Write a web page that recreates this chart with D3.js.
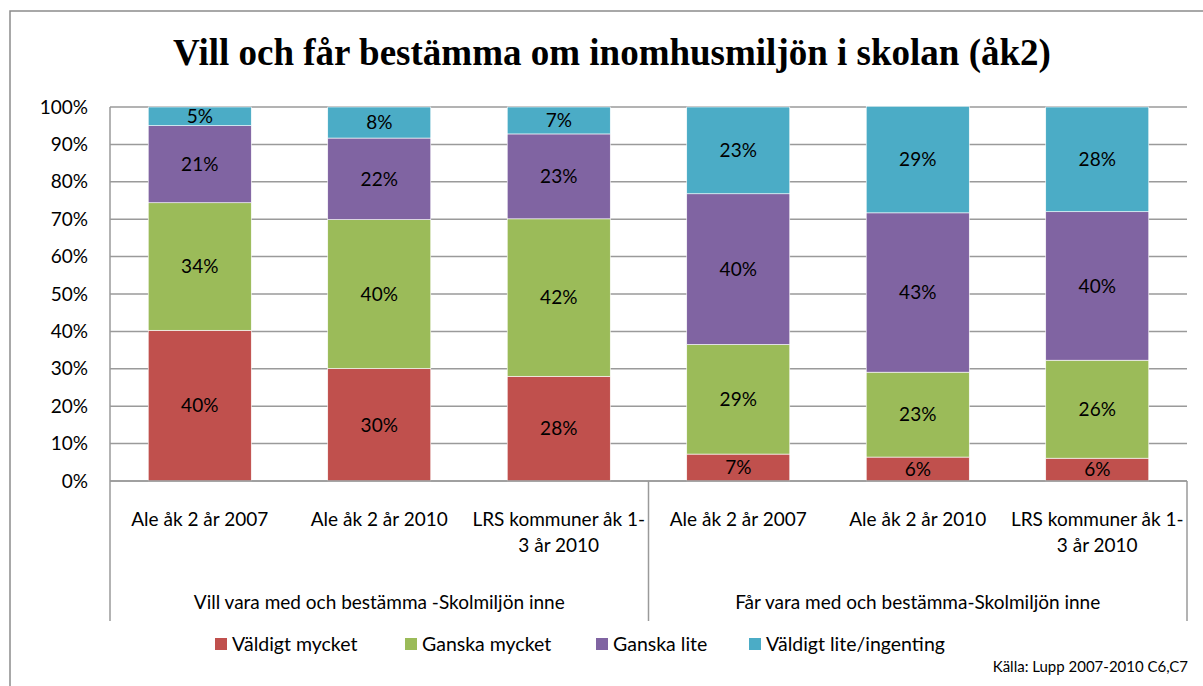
<!DOCTYPE html>
<html><head><meta charset="utf-8">
<script src="https://cdn.jsdelivr.net/npm/d3@7"></script>
<style>body{margin:0;background:#fff;} svg{display:block;}</style>
</head><body>
<svg id="chart" width="1203" height="686"></svg>
<script>
const title = "Vill och får bestämma om inomhusmiljön i skolan (åk2)";
const categoryLines = [
  ["Ale åk 2 år 2007"], ["Ale åk 2 år 2010"], ["LRS kommuner åk 1-", "3 år 2010"],
  ["Ale åk 2 år 2007"], ["Ale åk 2 år 2010"], ["LRS kommuner åk 1-", "3 år 2010"]
];
const groups = ["Vill vara med och bestämma -Skolmiljön inne", "Får vara med och bestämma-Skolmiljön inne"];
const seriesNames = ["Väldigt mycket", "Ganska mycket", "Ganska lite", "Väldigt lite/ingenting"];
const seriesColors = ["#C0504D", "#9BBB59", "#8064A2", "#4BACC6"];
const valVeryMuch   = [40.3, 30.1, 28.0, 7.2, 6.4, 6.1];
const valQuiteMuch  = [34.1, 39.8, 42.1, 29.3, 22.7, 26.2];
const valQuiteLittle= [20.6, 21.8, 22.7, 40.3, 42.6, 39.7];
const valVeryLittle = [5.0, 8.3, 7.2, 23.2, 28.5, 28.0];
const yTicks = [0,10,20,30,40,50,60,70,80,90,100];
const source = "Källa: Lupp 2007-2010 C6,C7";

const svg = d3.select("#chart");
const font = "Lato, 'Open Sans', sans-serif";
const fs = 19;
const L = 110, R = 1187, T = 107, B = 481, sepBottom = 621;
const series = [valVeryMuch, valQuiteMuch, valQuiteLittle, valVeryLittle];

// outer border
svg.append("path").attr("d", "M10,686 V11 H1203").attr("fill","none").attr("stroke","#8c8c8c").attr("stroke-width",1.5);

svg.append("text").attr("x", 612).attr("y", 65).attr("text-anchor","middle")
  .attr("font-family","'Liberation Serif', 'DejaVu Serif', serif").attr("font-weight","bold")
  .attr("font-size", 37).attr("fill","#000").text(title);

const x = d3.scaleBand().domain(d3.range(categoryLines.length)).range([L,R]).paddingInner(0.426).paddingOuter(0.213);
const y = d3.scaleLinear().domain([0,100]).range([B,T]);

// gridlines
svg.append("g").selectAll("line").data(yTicks).join("line")
  .attr("x1", L).attr("x2", R).attr("y1", d=>y(d)).attr("y2", d=>y(d))
  .attr("stroke","#9a9a9a").attr("stroke-width",1.5);

// y axis labels
svg.append("g").selectAll("text").data(yTicks).join("text")
  .attr("x", 88).attr("y", d=>y(d)).attr("dy","0.35em").attr("text-anchor","end")
  .attr("font-family",font).attr("font-size",fs).attr("fill","#000").text(d=>d+"%");

// stacked
const stackData = categoryLines.map((c,i)=>{const o={i}; series.forEach((s,k)=>o[k]=s[i]); return o;});
const stack = d3.stack().keys(d3.range(series.length))(stackData);
const layers = svg.append("g").selectAll("g").data(stack).join("g").attr("fill",(d,k)=>seriesColors[k]);
layers.selectAll("rect").data(d=>d).join("rect")
  .attr("x",d=>x(d.data.i)).attr("width",x.bandwidth())
  .attr("y",d=>y(d[1])).attr("height",d=>y(d[0])-y(d[1]))
  .attr("stroke","#ffffff").attr("stroke-width",0.6);
layers.selectAll("text").data(d=>d).join("text")
  .attr("x",d=>x(d.data.i)+x.bandwidth()/2).attr("y",d=>(y(d[0])+y(d[1]))/2).attr("dy","0.36em")
  .attr("text-anchor","middle").attr("font-family",font).attr("font-size",fs).attr("fill","#000")
  .text(d=>Math.round(d[1]-d[0])+"%");

// axes lines
const ax = svg.append("g").attr("stroke","#9a9a9a").attr("stroke-width",1.5);
ax.append("line").attr("x1",L).attr("x2",L).attr("y1",T).attr("y2",sepBottom);
ax.append("line").attr("x1",L).attr("x2",R).attr("y1",B).attr("y2",B);
const midSep = (x(2)+x.bandwidth()+x(3))/2;
[midSep, R].forEach(v=>ax.append("line").attr("x1",v).attr("x2",v).attr("y1",B).attr("y2",sepBottom));

// category labels
const cl = svg.append("g").attr("font-family",font).attr("font-size",fs).attr("fill","#000").attr("text-anchor","middle");
categoryLines.forEach((lines,i)=>{
  lines.forEach((t,j)=>cl.append("text").attr("x",x(i)+x.bandwidth()/2).attr("y",526+j*26).text(t));
});
// group labels
const gEdges = [[L, midSep],[midSep, R]];
groups.forEach((g,k)=>cl.append("text").attr("x",(gEdges[k][0]+gEdges[k][1])/2).attr("y",609).text(g));

// legend
const legX = [215, 405, 596, 749];
const lg = svg.append("g");
seriesNames.forEach((n,k)=>{
  lg.append("rect").attr("x",legX[k]).attr("y",638).attr("width",12).attr("height",12).attr("fill",seriesColors[k]);
  lg.append("text").attr("x",legX[k]+17).attr("y",651).attr("font-family",font).attr("font-size",19.5).attr("fill","#000").text(n);
});

svg.append("text").attr("x",1188).attr("y",672).attr("text-anchor","end").attr("font-family",font).attr("font-size",15).attr("fill","#000").text(source);
</script>
</body></html>
